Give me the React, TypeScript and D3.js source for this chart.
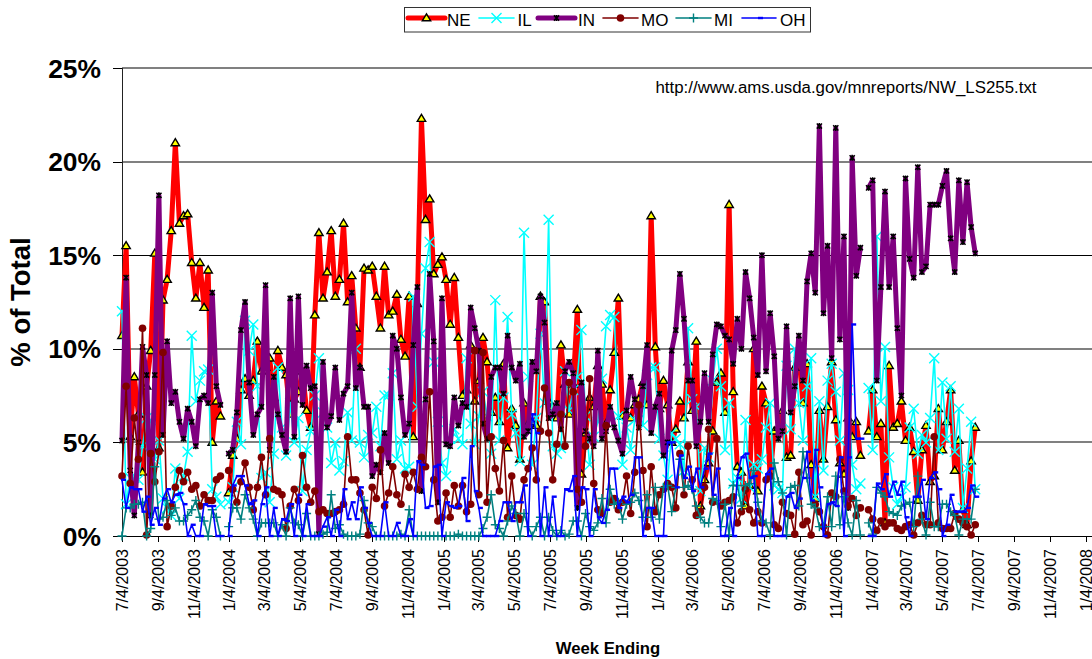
import React from "react";
import * as d3 from "d3";

const NE: (number | null)[] = [
  10.7,15.5,5.3,8.5,6.5,3.4,8.0,9.9,15.1,4.7,
  12.6,13.7,16.3,21.0,16.7,17.1,17.2,14.6,12.7,14.6,
  12.2,14.2,5.0,7.2,6.4,null,2.3,4.3,5.2,7.8,
  8.4,7.5,8.3,10.4,8.8,9.0,9.5,7.4,9.9,9.0,
  8.6,6.5,7.3,7.7,8.8,6.7,5.8,11.8,16.2,12.7,
  14.1,16.3,12.8,13.7,16.7,12.5,13.9,11.1,9.0,14.3,
  14.2,14.4,12.8,11.1,14.4,11.8,12.0,12.9,10.5,9.6,
  12.8,5.3,12.4,22.3,16.9,18.0,14.0,14.5,14.9,13.7,
  11.3,13.8,10.6,7.5,7.8,10.2,7.2,8.3,10.6,9.3,
  6.6,7.4,6.1,9.2,4.7,6.8,5.9,4.1,7.1,6.0,
  6.1,5.9,12.8,12.5,7.2,6.9,6.3,10.2,8.1,6.5,
  8.1,12.1,3.3,5.5,7.4,6.9,9.1,8.1,6.0,7.8,
  9.8,12.7,6.4,6.4,6.3,7.0,7.3,8.2,7.0,17.1,
  10.1,6.8,8.3,7.0,5.0,5.7,7.2,6.3,9.3,6.7,
  10.4,1.6,3.0,3.9,5.6,8.2,8.7,6.6,17.7,7.7,
  3.7,3.4,1.6,2.7,10.0,2.4,8.0,7.1,3.2,5.6,
  5.8,6.7,4.2,4.3,9.0,9.7,7.1,9.2,3.8,2.0,
  6.7,4.1,6.9,9.3,6.2,3.9,3.3,6.3,5.3,6.1,
  4.3,null,5.6,7.8,5.3,6.0,0.7,9.1,5.8,6.0,
  7.2,5.1,5.8,4.5,1.9,4.6,5.9,2.9,3.2,6.8,
  4.6,6.1,7.8,3.5,5.1,1.4,0.6,4.0,5.8,
];
const IL: (number | null)[] = [
  12.0,1.7,3.1,3.1,3.0,4.8,6.3,6.2,4.1,5.1,
  2.0,1.5,1.1,3.6,2.0,3.2,4.5,10.7,7.2,8.3,
  8.8,8.9,2.5,2.1,1.7,null,1.8,2.6,6.1,4.9,
  11.5,9.9,11.3,8.0,3.1,3.4,1.8,4.4,9.0,5.8,
  4.3,7.1,5.0,6.3,2.4,4.6,5.6,7.5,9.5,6.6,
  5.8,3.9,5.0,3.5,4.0,6.6,5.1,10.0,5.0,4.2,
  5.4,5.5,6.9,4.8,7.5,7.5,8.7,4.1,5.1,3.6,
  3.7,12.8,6.9,10.8,14.3,15.7,9.3,6.1,3.9,3.2,
  5.2,5.7,5.2,4.9,9.5,6.0,4.9,6.4,7.7,6.4,
  4.4,12.6,5.1,7.4,11.7,6.5,5.5,4.0,16.2,8.5,
  3.8,6.3,10.8,7.1,16.9,4.8,4.4,4.7,8.8,6.7,
  7.8,8.5,11.0,6.4,3.8,5.3,6.1,8.4,11.2,11.8,
  11.7,6.4,3.8,5.8,4.6,6.2,6.6,5.9,8.6,9.0,
  9.0,5.2,4.3,3.0,5.5,5.2,4.9,3.5,11.1,7.3,
  6.9,2.4,4.7,4.2,8.3,10.0,8.0,4.6,7.1,2.8,
  3.1,2.0,6.2,2.6,3.8,3.6,4.1,5.8,7.1,2.7,
  2.5,2.3,9.1,5.7,10.0,7.1,5.1,8.0,9.5,2.1,
  7.2,3.5,8.3,9.2,7.7,5.1,8.7,7.8,3.8,2.5,
  2.8,null,7.9,4.6,16.0,7.2,10.1,4.2,2.6,1.7,
  2.1,2.6,5.8,6.8,4.4,5.4,5.0,6.3,9.5,4.6,
  8.2,5.2,8.0,4.5,6.8,1.5,3.6,6.1,2.5,
];
const IN: (number | null)[] = [
  5.1,13.8,3.5,1.1,5.0,10.1,8.6,1.1,8.6,18.2,
  5.4,10.4,7.1,7.7,6.1,5.2,6.8,6.1,4.8,7.3,
  7.5,7.1,13.0,8.0,7.0,null,4.4,4.6,6.6,11.0,
  12.5,8.2,5.4,6.5,6.9,13.4,4.6,8.5,6.5,5.4,
  4.5,12.7,5.3,12.8,7.0,9.1,7.9,8.0,0.1,9.3,
  5.8,6.4,9.0,6.2,7.6,8.0,13.0,7.9,9.0,6.9,
  6.9,3.2,3.8,3.4,5.5,3.9,10.7,10.0,7.4,5.4,
  6.0,10.2,13.3,2.4,7.3,14.0,10.4,1.8,12.7,4.9,
  4.8,7.4,5.9,7.1,6.9,12.2,11.1,9.9,6.0,5.2,
  8.5,9.0,9.0,7.6,10.7,9.0,8.3,9.2,5.3,5.6,
  9.3,8.8,12.8,11.4,6.3,6.5,7.1,5.7,8.8,9.3,
  8.7,1.5,8.2,5.6,5.2,4.8,9.9,5.2,5.6,6.9,
  5.8,5.1,4.4,6.7,8.5,7.3,5.8,8.0,10.2,5.5,
  6.9,7.6,4.3,5.0,9.9,11.0,14.0,11.6,8.3,8.3,
  4.8,6.1,8.7,6.1,9.7,11.3,11.2,10.7,10.5,9.2,
  11.6,10.0,14.1,12.7,10.6,8.6,15.0,8.8,11.9,9.6,
  5.2,5.6,11.2,6.6,8.0,10.7,8.3,13.6,15.1,13.0,
  21.9,11.9,15.5,9.5,21.8,10.5,16.0,1.5,20.2,13.9,
  15.4,null,18.6,19.0,8.3,13.3,18.4,13.3,16.0,11.1,
  7.5,19.1,14.8,13.8,19.7,14.1,14.4,17.7,17.7,17.7,
  18.7,19.5,15.9,14.1,19.0,15.7,18.9,16.5,15.1,
];
const MO: (number | null)[] = [
  3.2,8.0,2.8,6.3,4.1,11.1,0.05,4.4,2.9,4.5,
  9.8,0.5,1.6,2.6,3.5,2.9,3.4,2.5,2.7,1.6,
  2.2,1.9,1.9,3.0,3.2,null,3.5,2.5,1.8,2.9,
  3.9,2.6,1.4,2.6,4.2,2.2,5.2,2.5,2.4,2.2,
  0.4,1.6,2.5,1.9,4.3,2.6,1.8,2.4,1.3,1.4,
  1.2,1.2,1.3,1.4,1.7,5.3,3.0,3.0,2.3,1.4,
  0.05,2.6,2.0,4.6,1.6,2.3,3.7,2.2,1.7,3.3,
  2.6,3.4,2.5,4.2,3.7,7.7,3.0,0.8,1.0,2.3,
  1.0,2.7,1.6,2.7,1.3,1.7,9.9,2.2,9.8,1.8,
  5.3,3.6,2.4,5.1,1.0,3.2,1.1,0.9,3.0,3.6,
  4.7,3.0,5.6,7.9,5.5,3.0,4.9,6.5,4.8,8.2,
  7.7,2.5,1.8,4.8,8.4,2.8,1.4,1.2,5.9,1.8,
  2.0,1.4,1.8,3.2,1.2,3.4,7.0,3.5,0.5,3.7,
  1.3,2.2,2.5,2.8,2.6,1.5,4.4,2.2,4.8,3.0,
  1.1,1.3,2.6,5.7,1.8,5.2,1.6,1.8,1.9,2.1,
  0.7,1.3,2.5,1.4,0.7,1.3,0.7,3.0,3.2,0.6,
  0.4,1.8,1.2,1.1,0.1,3.4,0.6,0.8,0.05,1.7,
  1.3,0.5,0.05,2.3,2.1,4.1,2.4,1.6,2.0,1.1,
  1.5,null,1.4,0.9,0.3,0.8,0.5,0.7,0.7,0.4,
  0.3,0.5,0.6,0.05,0.7,1.1,0.6,0.6,5.3,0.7,
  0.4,0.4,0.4,1.2,0.9,0.7,0.5,0.05,0.6,
];
const MI: (number | null)[] = [
  0,1.5,1.5,1.7,1.7,1.8,0,0.4,3.7,0.9,
  1.0,1.9,1.1,1.5,0.8,0.8,1.1,1.4,1.9,1.0,
  0.8,0,1.4,1.0,0,null,0.5,1.5,1.5,0.9,
  2.2,1.5,0.9,0,0.7,0.7,0.7,0.7,0,0.6,
  0,1.5,0.7,0.6,0,1.2,0,0,0,0.1,
  0.2,2.2,0.4,0.6,0.1,0,0,0,0.1,1.9,
  0.7,0.5,0,0,0,0,0,0,0.1,0,
  1.4,0,0,0,0,0,0,0,0,0,
  0,0,0.1,0,0,0,0,0,0.4,1.0,
  2.2,0.6,0.4,0,0.8,1.6,1.2,0,1.2,0.5,
  0,0.5,1.0,0,1.0,0.3,0,0.3,0,0.1,
  0.8,0.8,0,1.2,0.5,0.3,0.7,2.0,0.7,2.5,
  1.7,1.8,0.9,1.7,1.8,2.3,1.9,1.0,2.2,1.0,
  2.6,0.9,2.6,2.7,1.3,2.6,4.1,2.6,2.7,2.5,
  1.6,1.0,0.7,0.7,2.0,1.9,0.5,1.7,0.05,2.7,
  2.7,1.6,2.7,2.8,3.5,1.8,0.8,0.7,0.05,3.9,
  2.9,2.3,0.05,2.6,2.7,1.6,4.5,3.1,1.7,1.5,
  0.5,0.5,2.1,0.5,3.2,0.6,2.1,0.7,0.05,1.9,
  0.05,null,0.7,0.1,2.6,2.3,2.1,1.3,1.2,1.1,
  1.6,1.7,1.8,0.5,3.2,0.9,0.05,1.8,0.5,0.5,
  1.7,1.7,1.3,1.1,0.05,0.9,0.9,0.9,2.5,
];
const OH: (number | null)[] = [
  3.0,1.5,2.6,2.5,2.5,1.3,2.1,0.6,1.5,0.6,
  2.0,2.5,1.8,2.2,2.3,1.7,0,0.6,0,0,
  1.7,1.6,1.6,0,0,null,0,2.7,3.2,3.2,
  2.7,1.7,1.9,0,1.7,2.6,0,1.5,0,0.9,
  0.8,1.7,0,2.2,0,1.7,0,0,0,0.5,
  1.0,0,1.4,0,2.5,0.9,1.8,0.9,2.6,1.5,
  0.7,0,0,0,1.8,0,0,0.7,0,0,
  0.9,0,4.0,3.8,1.5,1.6,3.7,3.8,0,1.8,
  1.6,1.5,1.6,3.1,0.8,4.8,2.4,1.5,0,0,
  0,0,0.8,1.8,1.8,0.8,1.8,1.8,2.7,0,
  6.5,5.5,0,2.6,0,2.1,0,0,2.5,2.4,
  3.2,0,2.6,2.5,0,2.5,1.0,0.7,1.4,3.6,
  3.6,1.5,2.1,1.8,2.2,4.2,4.2,0,1.5,1.5,
  0,0,0,5.0,5.0,2.6,4.3,3.1,3.7,2.4,
  3.6,2.6,3.6,4.4,2.2,3.6,0,0,1.5,0,
  3.1,4.2,4.4,3.1,3.2,0,0,3.3,3.6,0,
  0,0,2.1,2.3,1.5,2.0,3.1,4.5,1.9,4.6,
  2.6,0,1.7,1.8,1.6,4.2,0,4.2,11.3,5.2,
  5.2,null,0,0,2.8,2.5,3.3,2.1,2.9,2.2,
  2.9,1.0,0,2.1,2.1,3.0,0.9,3.1,3.4,2.5,
  0,0.6,2.2,1.3,1.3,1.3,1.5,2.7,2.1,
];

const seriesNames = ["NE", "IL", "IN", "MO", "MI", "OH"];
const seriesValues = [NE, IL, IN, MO, MI, OH];
const seriesColors = ["#ff0000", "#00ffff", "#800080", "#800000", "#008080", "#0000ff"];
const lineWidths = [5, 1.6, 5, 1.6, 1.6, 1.6];
const yTicks = [0, 5, 10, 15, 20, 25];
const softGridTicks = [5, 10, 20, 25];
const xTickLabels = [
  "7/4/2003","9/4/2003","11/4/2003","1/4/2004","3/4/2004","5/4/2004","7/4/2004","9/4/2004","11/4/2004",
  "1/4/2005","3/4/2005","5/4/2005","7/4/2005","9/4/2005","11/4/2005","1/4/2006","3/4/2006","5/4/2006",
  "7/4/2006","9/4/2006","11/4/2006","1/4/2007","3/4/2007","5/4/2007","7/4/2007","9/4/2007","11/4/2007","1/4/2008",
];
const firstWeek = new Date(2003, 6, 4);
const FONT = "'Liberation Sans', Arial, sans-serif";

const W = 1092, H = 659;
const x = d3.scaleTime().domain([new Date(2003, 6, 4), new Date(2008, 0, 4)]).range([122, 1086]);
const y = d3.scaleLinear().domain([0, 25]).range([536, 68]);

function Marker({ kind, cx, cy }: { kind: number; cx: number; cy: number }) {
  const t = `translate(${cx},${cy})`;
  switch (kind) {
    case 0:
      return <path transform={t} d="M0,-4.2 L4.2,2.8 L-4.2,2.8 Z" fill="#ffff00" stroke="#000" strokeWidth={1.4} strokeLinejoin="miter" />;
    case 1:
      return <path transform={t} d="M-5,-5 L5,5 M-5,5 L5,-5" stroke="#00ffff" strokeWidth={1.4} fill="none" />;
    case 2:
      return <path transform={t} d="M-2.6,-2.6 L2.6,2.6 M-2.6,2.6 L2.6,-2.6 M0,-3 L0,3" stroke="#000" strokeWidth={1.5} fill="none" />;
    case 3:
      return <circle transform={t} r={3.8} fill="#800000" />;
    case 4:
      return <path transform={t} d="M-4.5,0 L4.5,0 M0,-4.5 L0,4.5" stroke="#008080" strokeWidth={1.4} fill="none" />;
    default:
      return <rect transform={t} x={-1} y={-1.2} width={5} height={2.4} fill="#0000ff" />;
  }
}

const legendSlots = [
  { x0: 408, x1: 445, tx: 447 },
  { x0: 479, x1: 514, tx: 517.5 },
  { x0: 538, x1: 575, tx: 578 },
  { x0: 603, x1: 638, tx: 641 },
  { x0: 676, x1: 711, tx: 714 },
  { x0: 742, x1: 776, tx: 780 },
];

export default function App() {
  const dateOf = (i: number) => d3.timeDay.offset(firstWeek, i * 7);
  const lineGen = d3.line<number | null>()
    .defined((v) => v !== null)
    .x((_, i) => x(dateOf(i)))
    .y((v) => y(v as number));

  const tickDates = xTickLabels.map((s) => {
    const [m, d, yr] = s.split("/").map(Number);
    return new Date(yr, m - 1, d);
  });

  return (
    <svg width={W} height={H} viewBox={`0 0 ${W} ${H}`}
      style={{ position: "absolute", left: 0, top: 0, background: "#fff" }} fontFamily={FONT}>
      {yTicks.map((t) => {
        const soft = softGridTicks.includes(t);
        return (
          <g key={t}>
            <line x1={122} x2={W} y1={Math.round(y(t))} y2={Math.round(y(t))}
              stroke={soft ? "#808080" : "#000"} strokeWidth={soft ? 2 : 1} shapeRendering="crispEdges" />
            <line x1={113} x2={122} y1={Math.round(y(t))} y2={Math.round(y(t))} stroke="#000" strokeWidth={1} shapeRendering="crispEdges" />
          </g>
        );
      })}
      <line x1={122} x2={122} y1={68} y2={536} stroke="#222" strokeWidth={1} shapeRendering="crispEdges" />
      {yTicks.map((t) => (
        <text key={t} x={101} y={y(t)} dy="0.36em" textAnchor="end" fontSize={26.4} fontWeight="bold">{t}%</text>
      ))}
      {tickDates.map((d, i) => (
        <g key={i} transform={`translate(${x(d)},536)`}>
          <line x1={0} x2={0} y1={0} y2={6} stroke="#000" shapeRendering="crispEdges" />
          <text transform="translate(5.5,13) rotate(-90)" textAnchor="end" fontSize={16}>{xTickLabels[i]}</text>
        </g>
      ))}
      <text transform="translate(30,302) rotate(-90)" textAnchor="middle" fontSize={27.5} fontWeight="bold">% of Total</text>
      <text x={608} y={654} textAnchor="middle" fontSize={16.7} fontWeight="bold">Week Ending</text>
      <text x={655.5} y={92.5} fontSize={16.85}>http://www.ams.usda.gov/mnreports/NW_LS255.txt</text>

      {seriesValues.map((vals, s) => (
        <g key={seriesNames[s]}>
          <path d={lineGen(vals) ?? ""} fill="none" stroke={seriesColors[s]} strokeWidth={lineWidths[s]} strokeLinejoin="round" strokeLinecap="round" />
          {vals.map((v, i) =>
            v === null ? null : <Marker key={i} kind={s} cx={x(dateOf(i))} cy={y(v)} />
          )}
        </g>
      ))}

      <rect x={404.5} y={7.5} width={406} height={24.5} fill="#fff" stroke="#333" strokeWidth={1} />
      {seriesNames.map((n, s) => {
        const L = legendSlots[s];
        return (
          <g key={n}>
            <line x1={L.x0} x2={L.x1} y1={18} y2={18} stroke={seriesColors[s]} strokeWidth={lineWidths[s]} strokeLinecap="round" />
            <Marker kind={s} cx={(L.x0 + L.x1) / 2} cy={18} />
            <text x={L.tx} y={25.5} fontSize={17}>{n}</text>
          </g>
        );
      })}
    </svg>
  );
}
